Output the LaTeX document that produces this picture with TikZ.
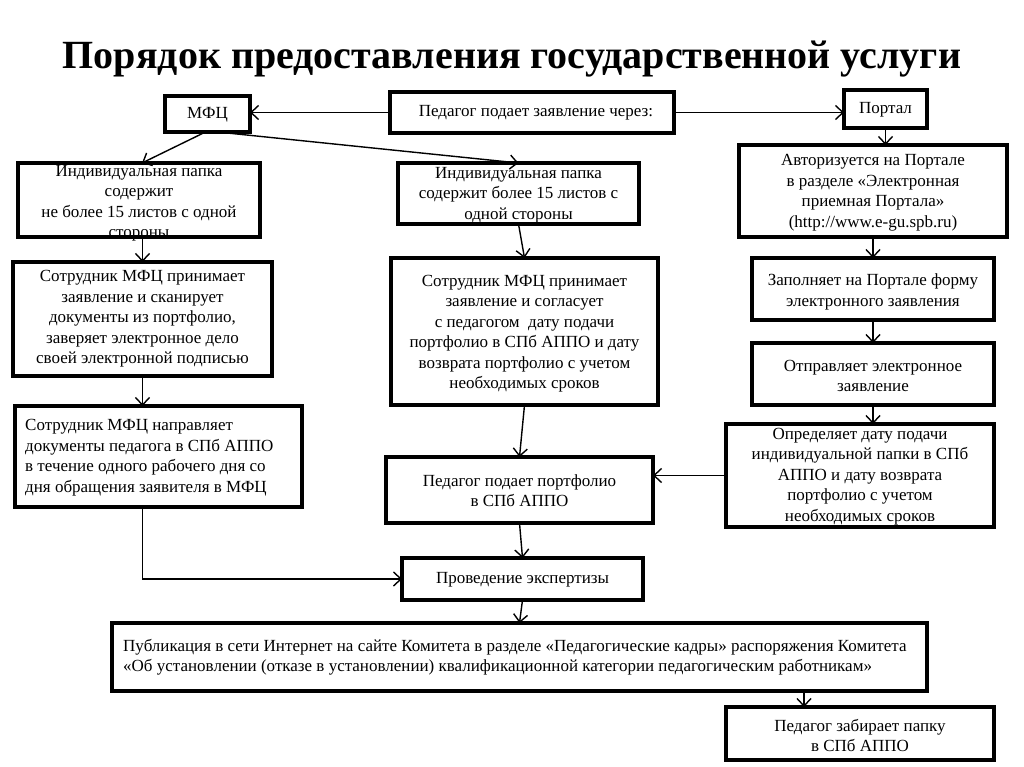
\documentclass[tikz,border=0pt]{standalone}
\usepackage{fontspec}
\setmainfont{Liberation Serif}
\usetikzlibrary{arrows.meta,calc}
\begin{document}
\begin{tikzpicture}[x=1pt,y=-1pt,
  box/.style={draw, line width=3.2pt, inner sep=0pt, outer sep=0pt},
  txt/.style={align=center, font=\fontsize{17}{20.5}\selectfont, inner sep=0pt},
  txtl/.style={align=left, font=\fontsize{17}{20.5}\selectfont, inner sep=0pt, anchor=west},
  arr/.style={line width=1.4pt, -{Straight Barb[length=7.5pt,width=14pt,line width=1.4pt]}},
  ln/.style={line width=1.4pt}]
\useasboundingbox[fill=white] (0,0) rectangle (1024,767);

\node[anchor=base, font=\fontsize{40}{44}\selectfont\bfseries, inner sep=0pt] (title) at (512,69) {Порядок предоставления государственной услуги};

% boxes
\node[box, minimum width=85pt, minimum height=36pt] (mfc) at (207.5,114) {};
\node[box, minimum width=284pt, minimum height=41pt] (ped) at (532,112.5) {};
\node[box, minimum width=83pt, minimum height=38pt] (portal) at (885.5,109) {};
\node[box, minimum width=242pt, minimum height=74pt] (ind1) at (139,200) {};
\node[box, minimum width=241pt, minimum height=61pt] (ind2) at (518.5,193.5) {};
\node[box, minimum width=268pt, minimum height=92pt] (auth) at (873,191) {};
\node[box, minimum width=259pt, minimum height=114pt] (sotr1) at (142.5,319) {};
\node[box, minimum width=267pt, minimum height=147pt] (sotr2) at (524.5,331.5) {};
\node[box, minimum width=242pt, minimum height=62pt] (fill) at (873,289) {};
\node[box, minimum width=242pt, minimum height=62pt] (send) at (873,374) {};
\node[box, minimum width=268pt, minimum height=103pt] (det) at (860,475.5) {};
\node[box, minimum width=287pt, minimum height=101pt] (sotr3) at (158.5,456.5) {};
\node[box, minimum width=267pt, minimum height=66pt] (pedport) at (519.5,490) {};
\node[box, minimum width=241pt, minimum height=42pt] (exp) at (522.5,579) {};
\node[box, minimum width=815pt, minimum height=68pt] (pub) at (519.5,657) {};
\node[box, minimum width=268pt, minimum height=53pt] (take) at (860,733.5) {};

% texts
\node[txt] (mfct) at (207.5,115) {МФЦ};
\node[txt] (pedt) at (536,113) {Педагог подает заявление через:};
\node[txt] (portalt) at (885.5,110) {Портал};
\node[txt] (ind1t) at (139,203) {Индивидуальная папка\\содержит\\не более 15 листов с одной\\стороны};
\node[txt] (ind2t) at (518.5,195) {Индивидуальная папка\\содержит более 15 листов с\\одной стороны};
\node[txt] (autht) at (873,192.5) {Авторизуется на Портале\\в разделе «Электронная\\приемная Портала»\\(http://www.e-gu.spb.ru)};
\node[txt] (sotr1t) at (142.5,319) {Сотрудник МФЦ принимает\\заявление и сканирует\\документы из портфолио,\\заверяет электронное дело\\своей электронной подписью};
\node[txt] (sotr2t) at (524.5,333.5) {Сотрудник МФЦ принимает\\заявление и согласует\\с педагогом\ \ дату подачи\\портфолио в СПб АППО и дату\\возврата портфолио с учетом\\необходимых сроков};
\node[txt] (fillt) at (873,292) {Заполняет на Портале форму\\электронного заявления};
\node[txt] (sendt) at (873,376) {Отправляет электронное\\заявление};
\node[txt] (dett) at (860,476.5) {Определяет дату подачи\\индивидуальной папки в СПб\\АППО и дату возврата\\портфолио с учетом\\необходимых сроков};
\node[txtl] (sotr3t) at (25,457.5) {Сотрудник МФЦ направляет\\документы педагога в СПб АППО\\в течение одного рабочего дня со\\дня обращения заявителя в МФЦ};
\node[txt] (pedportt) at (519.5,490.5) {Педагог подает портфолио\\в СПб АППО};
\node[txt] (expt) at (522.5,580) {Проведение экспертизы};
\node[txtl] (pubt) at (123,657) {Публикация в сети Интернет на сайте Комитета в разделе «Педагогические кадры» распоряжения Комитета\\«Об установлении (отказе в установлении) квалификационной категории педагогическим работникам»};
\node[txt] (taket) at (860,735.5) {Педагог забирает папку\\в СПб АППО};

% connectors
\draw[arr] (ped.west) -- (ped.west -| mfc.east);
\draw[arr] (ped.east) -- (ped.east -| portal.west);
\draw[arr] ([xshift=-2pt]mfc.south) -- ([xshift=3pt]ind1.north);
\draw[arr] ([xshift=10pt]mfc.south) -- (ind2.north);
\draw[arr] (sotr1.north |- ind1.south) -- (sotr1.north);
\draw[arr] (sotr1.south) -- (sotr1.south |- sotr3.north);
\draw[arr] (ind2.south) -- (sotr2.north);
\draw[arr] (sotr2.south) -- (pedport.north);
\draw[arr] (portal.south) -- (portal.south |- auth.north);
\draw[arr] (auth.south) -- (fill.north);
\draw[arr] (fill.south) -- (send.north);
\draw[arr] (send.south) -- (send.south |- det.north);
\draw[arr] (det.west) -- (det.west -| pedport.east);
\draw[arr] (sotr3.south -| sotr1.south) |- (exp.west);
\draw[arr] (pedport.south) -- (exp.north);
\draw[arr] (exp.south) -- (pub.north);
\draw[arr] ([xshift=284.5pt]pub.south) -- ([xshift=284.5pt]pub.south |- take.north);
\end{tikzpicture}
\end{document}
